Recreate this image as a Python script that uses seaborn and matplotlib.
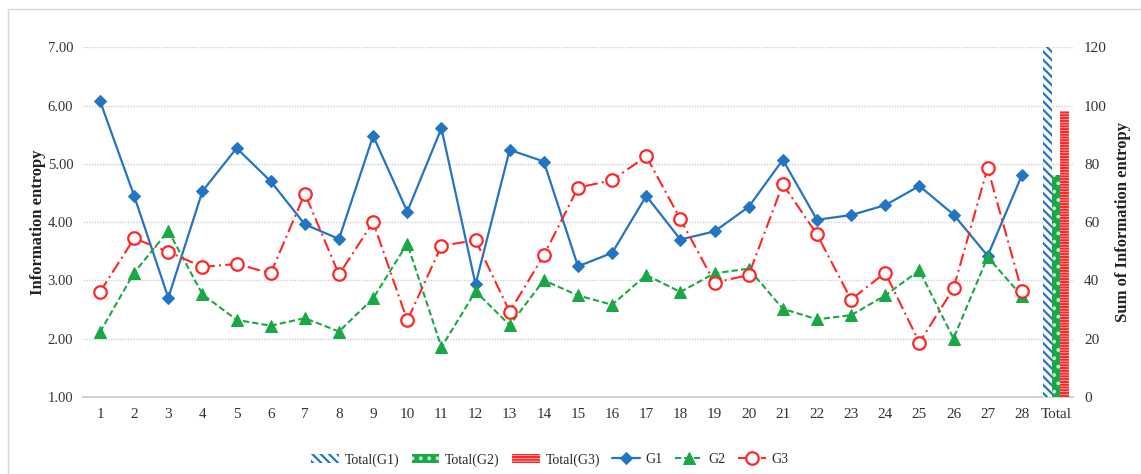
import numpy as np
import pandas as pd
import matplotlib
matplotlib.use("Agg")
import matplotlib.pyplot as plt
from matplotlib.patches import Rectangle
import seaborn as sns

# === data ===
categories = [str(i) for i in range(1, 29)] + ["Total"]

g1 = [6.08, 4.45, 2.70, 4.53, 5.27, 4.70, 3.96, 3.71, 5.48, 4.18,
      5.61, 2.93, 5.24, 5.04, 3.24, 3.47, 4.45, 3.70, 3.84, 4.26,
      5.07, 4.04, 4.12, 4.29, 4.62, 4.13, 3.42, 4.80]
g2 = [2.11, 3.13, 3.85, 2.76, 2.32, 2.22, 2.35, 2.12, 2.69, 3.63,
      1.85, 2.81, 2.23, 3.00, 2.74, 2.58, 3.09, 2.80, 3.12, 3.20,
      2.51, 2.33, 2.40, 2.74, 3.17, 2.00, 3.40, 2.73]
g3 = [2.80, 3.72, 3.49, 3.23, 3.28, 3.12, 4.49, 3.10, 4.00, 2.31,
      3.59, 3.69, 2.46, 3.43, 4.59, 4.72, 5.13, 4.05, 2.96, 3.09,
      4.65, 3.79, 2.67, 3.13, 1.93, 2.86, 4.93, 2.82]

totals = [120.0, 76.0, 98.0]
total_labels = ["Total(G1)", "Total(G2)", "Total(G3)"]

BLUE = "#2474c4"
GREEN = "#19a845"
RED = "#ff2626"

sns.set_style("white")
plt.rcParams["font.family"] = ["Liberation Serif", "DejaVu Serif"]
plt.rcParams["hatch.linewidth"] = 1.6

df = pd.DataFrame({"pos": np.arange(len(g1)), "G1": g1, "G2": g2, "G3": g3})

fig = plt.figure(figsize=(11.41, 4.74), dpi=100)
ax = fig.add_axes([0.0727, 0.163, 0.8677, 0.737])
ax2 = ax.twinx()

# totals on the right axis
offsets = [-0.25, 0.0, 0.25]
bar_styles = [
    dict(facecolor="white", edgecolor=BLUE, hatch="\\\\\\\\"),
    dict(facecolor=GREEN, edgecolor="#bdeccb", hatch=".."),
    dict(facecolor="white", edgecolor=RED, hatch="------"),
]
bar_handles = []
for off, val, lab, st in zip(offsets, totals, total_labels, bar_styles):
    b = ax2.bar(len(g1) + off, val, width=0.25, linewidth=0, label=lab, **st)
    bar_handles.append(b)

# lines on the left axis
sns.lineplot(data=df, x="pos", y="G1", ax=ax, color=BLUE, linewidth=1.6,
             marker="D", markersize=6.5, markeredgecolor=BLUE, label="G1")
sns.lineplot(data=df, x="pos", y="G2", ax=ax, color=GREEN, linewidth=1.5,
             linestyle=(0, (3, 1.5)), marker="^", markersize=8,
             markeredgecolor=GREEN, label="G2")
sns.lineplot(data=df, x="pos", y="G3", ax=ax, color=RED, linewidth=1.5,
             linestyle=(0, (6, 2, 1, 2)), marker="o", markersize=9,
             markerfacecolor="white", markeredgecolor=RED,
             markeredgewidth=1.6, label="G3")

ax.set_xlim(-0.5, len(categories) - 0.5)
ax.set_ylim(1, 7)
ax.set_yticks(np.arange(1, 8))
ax.set_yticklabels([f"{v:.2f}" for v in range(1, 8)])
ax.set_xticks(np.arange(len(categories)))
ax.set_xticklabels(categories)
ax.set_xlabel("")
ax.set_ylabel("Information entropy", fontsize=12, fontweight="bold",
              color="#222222", labelpad=1)
ax.grid(axis="y", linestyle=(0, (1, 1)), color="#cfcfcf", linewidth=1)
ax.set_axisbelow(True)

ax2.set_ylim(0, 120)
ax2.set_yticks(np.arange(0, 121, 20))
ax2.set_ylabel("Sum of Information entropy", fontsize=12, fontweight="bold",
               color="#222222", labelpad=6)

for a in (ax, ax2):
    for s in a.spines.values():
        s.set_visible(False)
    a.tick_params(length=0, labelsize=11, colors="#333333", pad=8)
ax.tick_params(axis="y", labelsize=10.5, pad=7)
ax.spines["bottom"].set_visible(True)
ax.spines["bottom"].set_color("#c8c8c8")
ax.spines["bottom"].set_linewidth(1.2)

if ax.legend_:
    ax.legend_.remove()
line_handles, line_labels = ax.get_legend_handles_labels()
fig.legend(bar_handles + line_handles, total_labels + line_labels,
           loc="center", bbox_to_anchor=(0.482, 0.03), ncol=6, frameon=False,
           fontsize=10, handlelength=2.0, columnspacing=0.9,
           handletextpad=0.4)

# light frame around the chart
fig.patches.append(Rectangle((8 / 1141, -0.1), 1.2, 1.1 - 9 / 474,
                             transform=fig.transFigure, fill=False,
                             edgecolor="#d6d6d6", linewidth=1))

fig.savefig("out.png", dpi=100)
